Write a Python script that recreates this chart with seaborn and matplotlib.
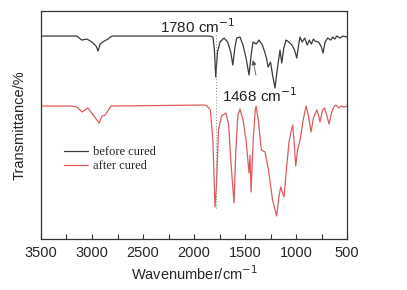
import matplotlib
matplotlib.use("Agg")
import matplotlib.pyplot as plt
from matplotlib.ticker import MultipleLocator
import seaborn as sns
import pandas as pd

# FTIR spectra (wavenumber, transmittance in arbitrary units)
wn_before = [3500, 3150, 3100, 3050, 3000, 2960, 2941, 2920, 2880, 2843, 2820, 2800,
             1850, 1814, 1800, 1787, 1770, 1745, 1706, 1670, 1640, 1620, 1600, 1582,
             1549, 1520, 1490, 1461, 1440, 1422, 1390, 1363, 1330, 1304, 1290, 1274,
             1250, 1230, 1206, 1185, 1157, 1140, 1120, 1098, 1070, 1040, 1015, 993,
             975, 961, 940, 915, 890, 870, 850, 830, 814, 780, 755, 735, 715, 690,
             660, 640, 620, 600, 570, 540, 500]
t_before = [203, 203, 199, 200, 197, 193, 188, 195, 198, 200, 202, 203,
            203, 202, 189, 162, 187, 197, 201, 197, 187, 174, 191, 201,
            202, 194, 181, 164, 184, 197, 195, 199, 194, 186, 181, 172,
            177, 164, 151, 169, 189, 176, 191, 199, 197, 194, 189, 181,
            194, 202, 197, 201, 194, 199, 195, 200, 198, 197, 193, 186, 197, 201,
            199, 202, 200, 203, 201, 203, 202]

wn_after = [3500, 3200, 3150, 3096, 3070, 3040, 3010, 2980, 2931, 2900, 2870, 2840, 2814,
            1900, 1873, 1840, 1815, 1800, 1794, 1780, 1760, 1730, 1689, 1660, 1640,
            1608, 1590, 1570, 1549, 1520, 1490, 1461, 1451, 1441, 1420, 1400, 1392,
            1370, 1340, 1304, 1270, 1230, 1190, 1165, 1150, 1118, 1090, 1069, 1045,
            1033, 1020, 1003, 985, 961, 930, 902, 880, 853, 830, 797, 780, 765, 740,
            720, 700, 676, 650, 630, 608, 580, 560, 530, 500]
t_after = [133, 133, 132, 127, 129, 131, 127, 123, 116, 123, 124, 129, 133,
           134, 133, 129, 99, 49, 32, 54, 109, 123, 126, 114, 79,
           36, 89, 124, 130, 119, 99, 66, 84, 47, 99, 129, 133,
           119, 89, 87, 69, 39, 23, 44, 52, 42, 74, 97, 109,
           114, 99, 73, 89, 99, 119, 133, 124, 107, 121, 129, 124, 117, 129,
           131, 124, 115, 127, 132, 134, 131, 133, 132, 133]

df = pd.concat([
    pd.DataFrame({"wn": wn_before, "T": t_before, "sample": "before cured"}),
    pd.DataFrame({"wn": wn_after, "T": t_after, "sample": "after cured"}),
])

sns.set_style("white")
plt.rcParams["font.family"] = ["Liberation Sans", "DejaVu Sans"]

fig = plt.figure(figsize=(4.07, 2.9), dpi=100)
ax = fig.add_axes([0.1007, 0.1759, 0.752, 0.786])

sns.lineplot(data=df, x="wn", y="T", hue="sample", sort=False, estimator=None,
             palette={"before cured": "#3a3a3a", "after cured": "#e05a5a"},
             linewidth=0.9, ax=ax)

# dotted guide at the C=O band
ax.plot([1780, 1780], [204, 29], linestyle=(0, (1, 2)), color="#888888", linewidth=0.7)

ax.text(1961, 212, "1780 cm$^{-1}$", ha="center", va="center", fontsize=11, color="#222222")
ax.annotate("1468 cm$^{-1}$", xy=(1422, 179), xytext=(1353, 143),
            ha="center", va="center", fontsize=11, color="#222222",
            arrowprops=dict(arrowstyle="-|>", color="#555555", lw=0.6,
                            shrinkA=6, shrinkB=0, mutation_scale=7))

ax.set_xlim(3500, 500)
ax.set_ylim(0, 228)
ax.xaxis.set_major_locator(MultipleLocator(500))
ax.xaxis.set_minor_locator(MultipleLocator(250))
ax.tick_params(axis="x", which="both", direction="in", bottom=True, top=False,
               labelsize=10.5, length=3.5, width=0.8, color="#333333", pad=5)
ax.set_yticks([])

for s in ax.spines.values():
    s.set_color("#333333")
    s.set_linewidth(0.9)

ax.set_xlabel("Wavenumber/cm$^{-1}$", fontsize=10.5, labelpad=3)
ax.set_ylabel("Transmittance/%", fontsize=10.5, labelpad=10)

ax.legend(loc="center left", bbox_to_anchor=(0.055, 0.35), frameon=False,
          prop={"family": "Liberation Serif", "size": 9}, handlelength=1.9,
          handletextpad=0.4, labelspacing=0.2, borderpad=0)

fig.savefig("out.png", dpi=100)
